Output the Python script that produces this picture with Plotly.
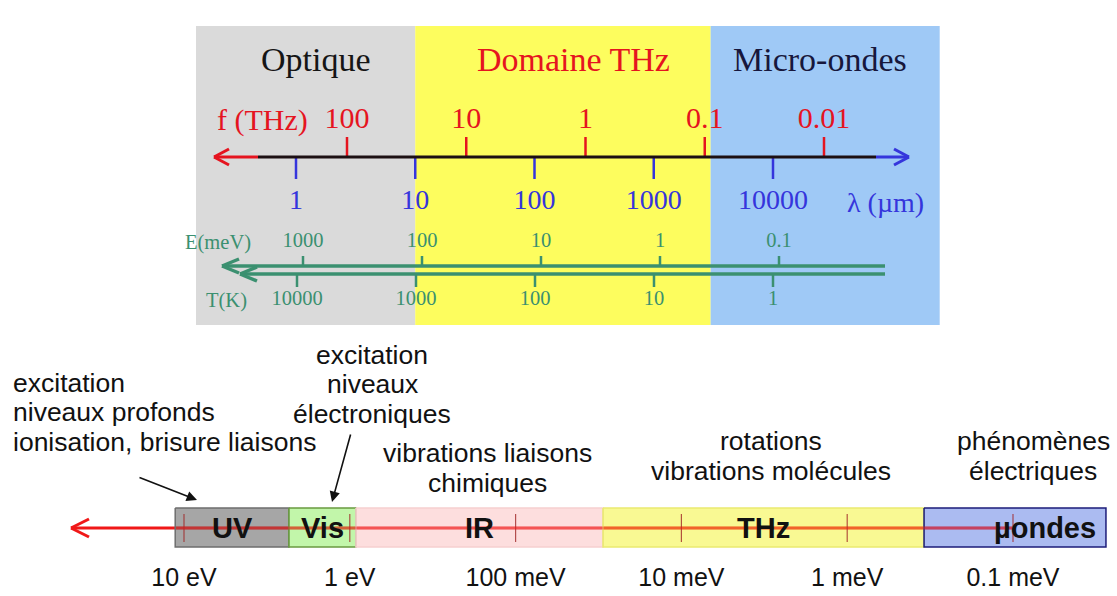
import numpy as np
import plotly.graph_objects as go

W, H = 1117, 596

# top panel: spectral domains, edges given as wavelength (µm)
domains = ["Optique", "Domaine THz", "Micro-ondes"]
domain_wl_edges = [0.145, 10, 3000, 250000]

# scales of the top panel
freq_THz = [100, 10, 1, 0.1, 0.01]
freq_labels = ["100", "10", "1", "0.1", "0.01"]
wl_um = [1, 10, 100, 1000, 10000]
wl_labels = ["1", "10", "100", "1000", "10000"]
E_meV = [1000, 100, 10, 1, 0.1]
E_labels = ["1000", "100", "10", "1", "0.1"]
T_K = [10000, 1000, 100, 10, 1]
T_labels = ["10000", "1000", "100", "10", "1"]

# bottom panel: bands, edges given as photon energy (eV)
bands = ["UV", "Vis", "IR", "THz", "µondes"]
band_edges_eV = [11.3, 2.33, 0.918, 0.0297, 3.44e-4, 2.75e-5]
scale_eV = [10, 1, 0.1, 0.01, 0.001, 0.0001]
scale_labels = ["10 eV", "1 eV", "100 meV", "10 meV", "1 meV", "0.1 meV"]

SERIF = "Liberation Serif, Times New Roman, serif"
SANS = "Liberation Sans, Arial, sans-serif"
RED = "#e5141f"
BLUE = "#3535dc"
GREEN = "#3b9070"

domain_fill = ["#dadada", "#fdfd5e", "#9fc9f6"]
domain_color = ["#151515", RED, "#17173c"]
band_fill = ["rgba(112,112,112,0.62)", "rgba(156,240,118,0.62)",
             "rgba(251,201,201,0.62)", "rgba(246,246,80,0.62)",
             "rgba(120,146,232,0.62)"]
band_line = ["#6e6e6e", "#6a9a40", "#f6d0d0", "#eaea70", "#1c1c7a"]


def px(x):
    return x / W


def py(y):
    return 1 - y / H


def tick_xy(vals, y0, y1):
    xs, ys = [], []
    for v in vals:
        xs += [v, v, None]
        ys += [y0, y1, None]
    return xs, ys


fig = go.Figure()

# domain backgrounds (wavelength axis)
for i, name in enumerate(domains):
    a, b = domain_wl_edges[i], domain_wl_edges[i + 1]
    fig.add_trace(go.Scatter(
        x=[a, b, b, a, a], y=[26, 26, 325, 325, 26], xaxis="x", yaxis="y",
        mode="lines", fill="toself", fillcolor=domain_fill[i],
        line=dict(width=0), hoverinfo="skip"))

# wavelength scale
xs, ys = tick_xy(wl_um, 157, 179)
fig.add_trace(go.Scatter(x=xs, y=ys, xaxis="x", yaxis="y", mode="lines",
                         line=dict(color=BLUE, width=2.5), hoverinfo="skip"))
fig.add_trace(go.Scatter(x=wl_um, y=[202] * 5, xaxis="x", yaxis="y",
                         mode="text", text=wl_labels,
                         textfont=dict(family=SERIF, size=28, color=BLUE)))

# frequency scale
xs, ys = tick_xy(freq_THz, 157, 137)
fig.add_trace(go.Scatter(x=xs, y=ys, xaxis="x2", yaxis="y", mode="lines",
                         line=dict(color=RED, width=2.5), hoverinfo="skip"))
fig.add_trace(go.Scatter(x=freq_THz, y=[120] * 5, xaxis="x2", yaxis="y",
                         mode="text", text=freq_labels,
                         textfont=dict(family=SERIF, size=30, color=RED)))

# energy scale (meV)
xs, ys = tick_xy(E_meV, 256, 267)
fig.add_trace(go.Scatter(x=xs, y=ys, xaxis="x3", yaxis="y", mode="lines",
                         line=dict(color=GREEN, width=2.5), hoverinfo="skip"))
fig.add_trace(go.Scatter(x=E_meV, y=[242] * 5, xaxis="x3", yaxis="y",
                         mode="text", text=E_labels,
                         textfont=dict(family=SERIF, size=20.5, color=GREEN)))

# temperature scale (K)
xs, ys = tick_xy(T_K, 274, 287)
fig.add_trace(go.Scatter(x=xs, y=ys, xaxis="x4", yaxis="y", mode="lines",
                         line=dict(color=GREEN, width=2.5), hoverinfo="skip"))
fig.add_trace(go.Scatter(x=T_K, y=[300] * 5, xaxis="x4", yaxis="y",
                         mode="text", text=T_labels,
                         textfont=dict(family=SERIF, size=20.5, color=GREEN)))

# bottom bands (energy axis, eV)
for i, name in enumerate(bands):
    a, b = band_edges_eV[i], band_edges_eV[i + 1]
    fig.add_trace(go.Scatter(
        x=[a, b, b, a, a], y=[508, 508, 547, 547, 508], xaxis="x5", yaxis="y",
        mode="lines", fill="toself", fillcolor=band_fill[i],
        line=dict(color=band_line[i], width=1.5), hoverinfo="skip"))
xs, ys = tick_xy(scale_eV, 514, 542)
fig.add_trace(go.Scatter(x=xs, y=ys, xaxis="x5", yaxis="y", mode="lines",
                         line=dict(color="rgba(160,40,40,0.8)", width=1.2),
                         hoverinfo="skip"))
fig.add_trace(go.Scatter(x=scale_eV, y=[580] * 6, xaxis="x5", yaxis="y",
                         mode="text", text=scale_labels,
                         textfont=dict(family=SANS, size=25, color="#111111")))


# axis lines and chevron arrowheads (pixel positions)
def seg(x0, y0, x1, y1, color, width, layer="above"):
    return dict(type="line", xref="paper", yref="paper",
                x0=px(x0), y0=py(y0), x1=px(x1), y1=py(y1),
                line=dict(color=color, width=width), layer=layer)


def chevron(xt, y, dx, dy, color, width, layer="above"):
    return [seg(xt, y, xt + dx, y - dy, color, width, layer),
            seg(xt, y, xt + dx, y + dy, color, width, layer)]


shapes = []
shapes.append(seg(258, 157, 876, 157, "#1c0f12", 3))
shapes.append(seg(214, 157, 258, 157, RED, 3))
shapes += chevron(214, 157, 15, 8, RED, 3)
shapes.append(seg(876, 157, 909, 157, BLUE, 3))
shapes += chevron(909, 157, -15, -8, BLUE, 3)
shapes.append(seg(222, 266, 885, 266, GREEN, 3.5))
shapes += chevron(222, 266, 17, 7, GREEN, 3.5)
shapes.append(seg(240, 274, 885, 274, GREEN, 3.5))
shapes += chevron(240, 274, 17, 7, GREEN, 3.5)
shapes.append(seg(71, 528, 1012, 528, "#f01818", 3, "below"))
shapes += chevron(71, 528, 18, 9, "#f01818", 3, "below")
# the red line shows through the coloured bands
shapes.append(seg(176, 528, 1012, 528, "rgba(240,24,24,0.45)", 3))

ann = []


def text(x, y, s, size, color="#111111", family=SANS, anchor="center"):
    ann.append(dict(x=px(x), y=py(y), xref="paper", yref="paper", text=s,
                    showarrow=False, xanchor=anchor, yanchor="middle",
                    font=dict(family=family, size=size, color=color)))


# domain titles
title_x = [316, 573, 820]
for i, name in enumerate(domains):
    text(title_x[i], 60, name, 34, domain_color[i], SERIF)

text(262, 120, "f (THz)", 30, RED, SERIF)
text(885, 202, "λ (µm)", 28, BLUE, SERIF)
text(218, 242, "E(meV)", 20.5, GREEN, SERIF)
text(226, 300, "T(K)", 20.5, GREEN, SERIF)

# descriptions
FS = 26.5
for y, s in zip([383, 412, 442],
                ["excitation", "niveaux profonds", "ionisation, brisure liaisons"]):
    text(11, y, s, FS, anchor="left")
for y, s in zip([355, 384, 414], ["excitation", "niveaux", "électroniques"]):
    text(372, y, s, FS)
for y, s in zip([453, 483], ["vibrations liaisons", "chimiques"]):
    text(487, y, s, FS)
for y, s in zip([441, 471], ["rotations", "vibrations molécules"]):
    text(771, y, s, FS)
for y, s in zip([441, 471], ["phénomènes", "électriques"]):
    text(1033, y, s, FS)

# arrows pointing to UV and Vis
for (x0, y0, x1, y1) in [(138, 477, 197, 500), (351, 433, 332, 502)]:
    ann.append(dict(x=px(x1), y=py(y1), xref="paper", yref="paper",
                    ax=x0 - x1, ay=y0 - y1, text="", showarrow=True,
                    arrowhead=2, arrowsize=1.3, arrowwidth=1.6,
                    arrowcolor="#111111"))

# band labels
for i, name in enumerate(bands):
    c = np.sqrt(band_edges_eV[i] * band_edges_eV[i + 1])
    ann.append(dict(x=np.log10(c), y=528, xref="x5", yref="y",
                    text="<b>" + name + "</b>", showarrow=False,
                    xshift=30 if name == "µondes" else 0,
                    font=dict(family=SANS, size=29, color="#111111")))

hidden = dict(visible=False, fixedrange=True, domain=[0, 1])
fig.update_layout(
    width=W, height=H, autosize=False,
    margin=dict(l=0, r=0, t=0, b=0, pad=0),
    paper_bgcolor="white", plot_bgcolor="rgba(0,0,0,0)",
    showlegend=False,
    xaxis=dict(type="log", range=[-296 / 119.25, (W - 296) / 119.25], **hidden),
    xaxis2=dict(type="log", range=[2 + 347 / 119.25, 2 - (W - 347) / 119.25],
                overlaying="x", **hidden),
    xaxis3=dict(type="log", range=[3 + 303 / 119, 3 - (W - 303) / 119],
                overlaying="x", **hidden),
    xaxis4=dict(type="log", range=[4 + 297 / 119, 4 - (W - 297) / 119],
                overlaying="x", **hidden),
    xaxis5=dict(type="log", range=[1 + 184 / 165.8, 1 - (W - 184) / 165.8],
                overlaying="x", **hidden),
    yaxis=dict(range=[H, 0], **hidden),
    shapes=shapes,
    annotations=ann,
)

fig.write_html("out.html", config={"displayModeBar": False},
               post_script="document.body.style.margin='0';")
